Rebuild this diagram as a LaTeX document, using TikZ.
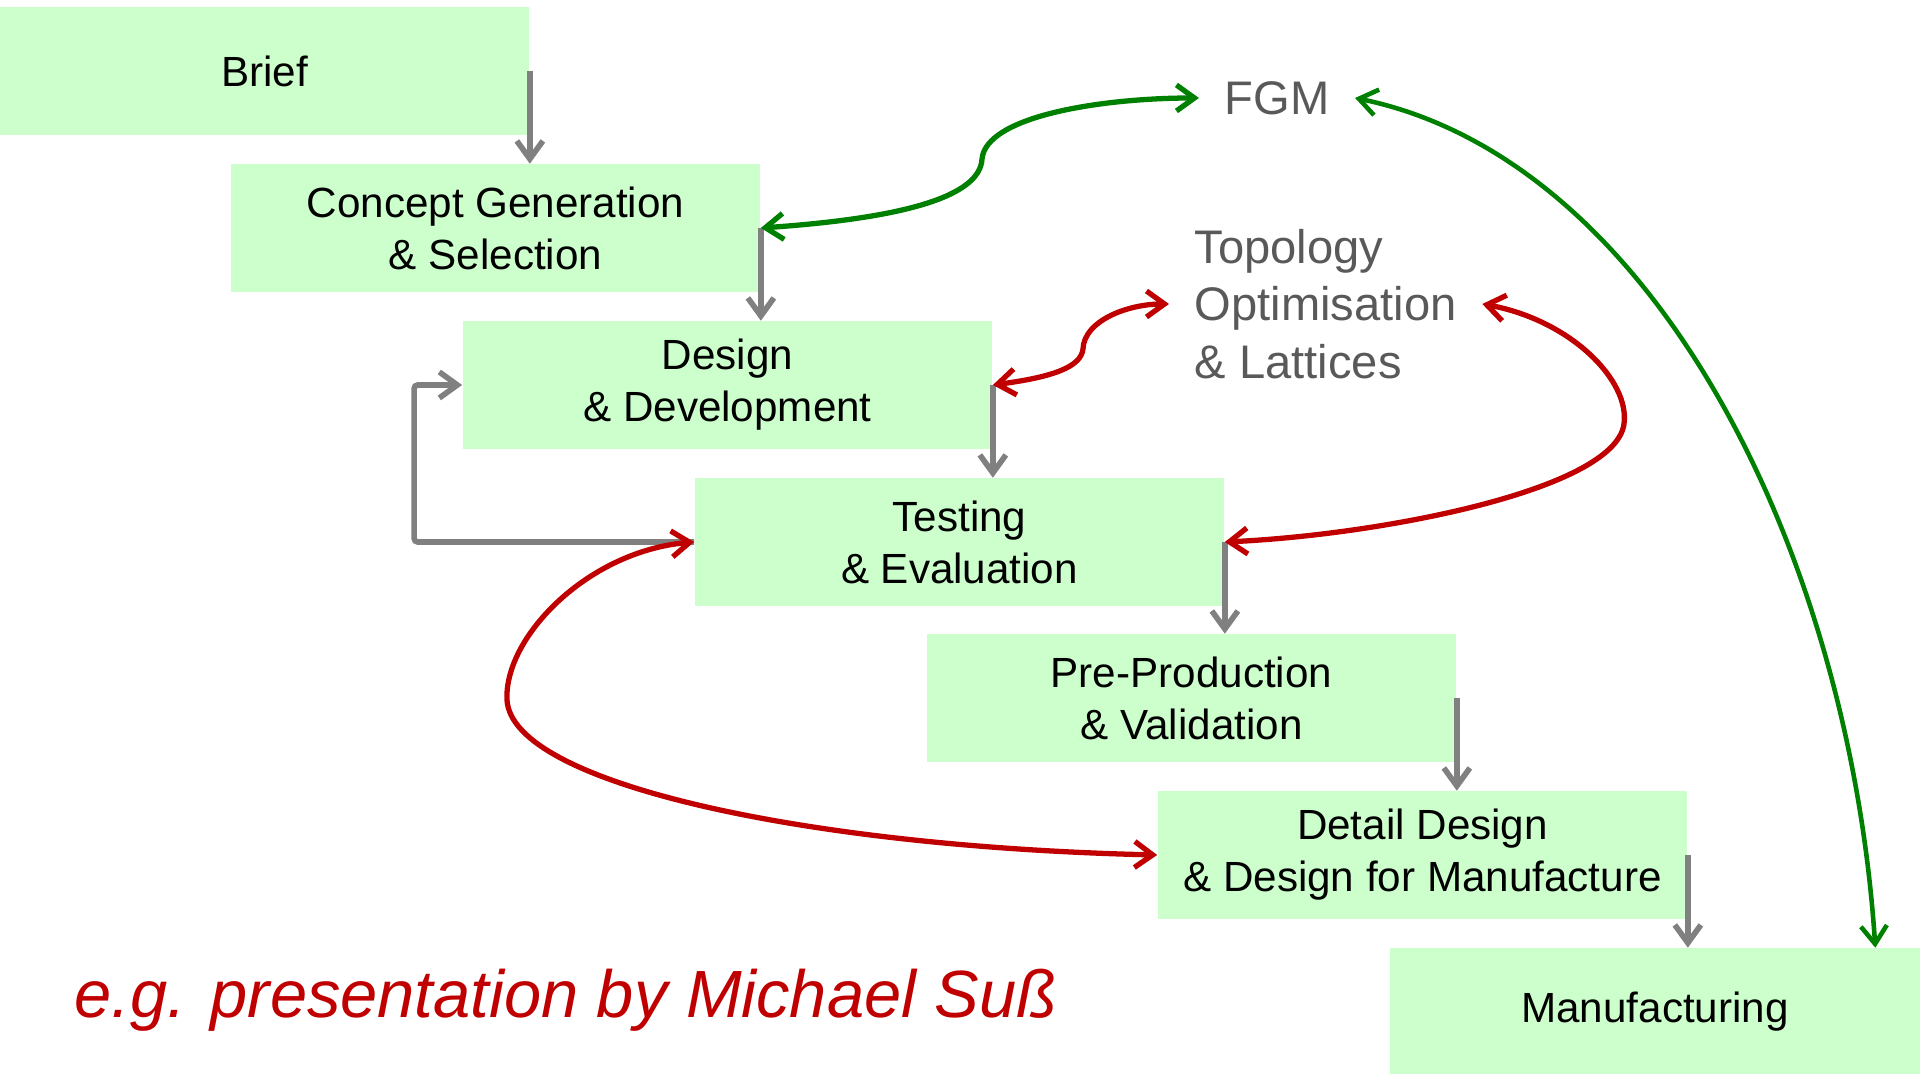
\documentclass[tikz,border=0pt]{standalone}
\usepackage{fontspec}
\setmainfont{Liberation Sans}
\usepackage{xcolor}
\usepackage{tikz}
\usetikzlibrary{arrows.meta}

\definecolor{stagefill}{HTML}{CCFFCC}
\definecolor{flowgray}{HTML}{808080}
\definecolor{fgmgreen}{HTML}{008000}
\definecolor{topored}{HTML}{C00000}
\definecolor{notegray}{HTML}{595959}

\begin{document}
\begin{tikzpicture}[x=0.01cm, y=-0.01cm,
    >={Straight Barb[length=1.8mm,width=2.6mm]},
    stage/.style={fill=stagefill, minimum width=5.29cm, minimum height=1.27cm,
        inner sep=0pt, align=center, font=\fontsize{12}{14.8}\selectfont},
    note/.style={text=notegray, inner ysep=0pt, inner xsep=0.25cm, align=left,
        font=\fontsize{13.4}{16.3}\selectfont},
    flow/.style={draw=flowgray, line width=1.6pt, ->},
    fgmlink/.style={draw=fgmgreen, line width=1.5pt, <->},
    topolink/.style={draw=topored, line width=1.5pt, <->}]
    \useasboundingbox (0,0) rectangle (1920,1074);

    % Stages
    \node[stage] (brief) at (264.5,71) {Brief};
    \node[stage] (concept) at (495.5,228) {Concept Generation\\\& Selection};
    \node[stage] (design) at (727.5,385) {Design\\\& Development};
    \node[stage] (testing) at (959.5,542) {Testing\\\& Evaluation};
    \node[stage] (preprod) at (1191.5,698) {Pre-Production\\\& Validation};
    \node[stage] (detail) at (1422.5,855) {Detail Design\\\& Design for Manufacture};
    \node[stage] (manuf) at (1655,1012) {Manufacturing};

    % Side topics
    \node[note] (fgm) at (1277,98) {FGM};
    \node[note, anchor=west] (topo) at (1169,304) {Topology\\Optimisation\\\& Lattices};

    % Main flow
    \draw[flow] (brief.east) -- (brief.east |- concept.north);
    \draw[flow] (concept.east) -- (concept.east |- design.north);
    \draw[flow] (design.east) -- (design.east |- testing.north);
    \draw[flow] (testing.east) -- (testing.east |- preprod.north);
    \draw[flow] (preprod.east) -- (preprod.east |- detail.north);
    \draw[flow] (detail.east) -- (detail.east |- manuf.north);
    \draw[flow, rounded corners=1pt] (testing.west) -- ++(-280,0) |- (design.west);

    % FGM links
    \draw[fgmlink] (concept.east) .. controls (906,218) and (980,196) .. (982,159)
        .. controls (986,116) and (1102,98) .. (fgm.west);
    \draw[fgmlink, line width=1.3pt] (fgm.east) .. controls (1653,159) and (1849,551) .. ([xshift=-0.45cm]manuf.north east);

    % Topology links
    \draw[topolink] (design.east) .. controls (1053,377) and (1081,367) .. (1083,349)
        .. controls (1084,321) and (1127,304) .. (topo.west);
    \draw[topolink] (topo.east) .. controls (1570,320) and (1630,380) .. (1624,424)
        .. controls (1615,490) and (1380,535) .. (testing.east);
    \draw[topolink] (testing.west) .. controls (588,551) and (504,637) .. (507,700)
        .. controls (512,784) and (808,847) .. (detail.west);

    % Source
    \node[text=topored, font=\fontsize{19}{22}\selectfont\itshape] (source) at (566,1000)
        {e.g. presentation by Michael Suß};
\end{tikzpicture}
\end{document}
